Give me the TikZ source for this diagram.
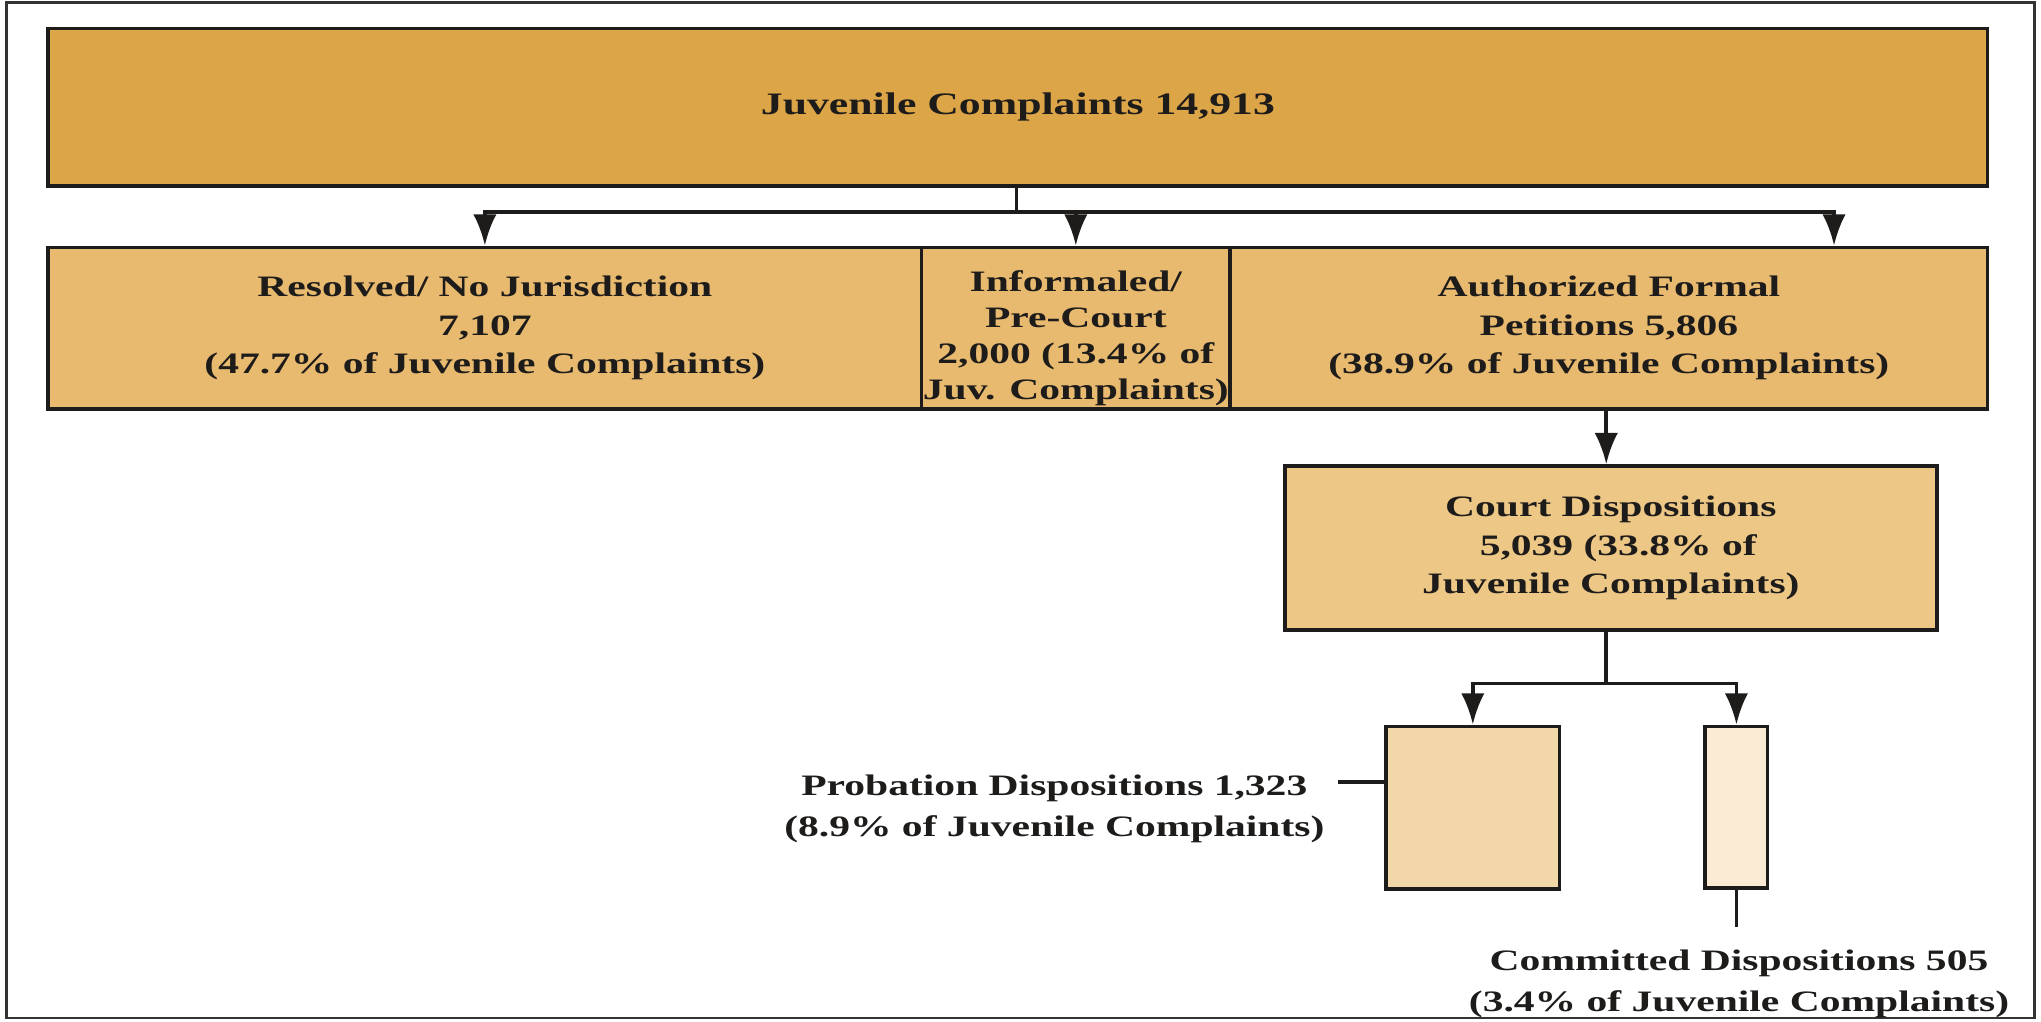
\documentclass[tikz,border=0pt]{standalone}
\usepackage{fontspec}
\setmainfont{Liberation Serif}[FakeStretch=1.4]
\usetikzlibrary{arrows.meta}
\definecolor{cTop}{RGB}{220,165,72}
\definecolor{cRow}{RGB}{232,186,112}
\definecolor{cCourt}{RGB}{236,199,134}
\definecolor{cProb}{RGB}{242,216,168}
\definecolor{cComm}{RGB}{251,234,212}
\definecolor{cLine}{RGB}{30,28,26}
\begin{document}
\begin{tikzpicture}[x=1pt,y=-1pt,
  box/.style={draw=cLine, line width=2.8pt, rectangle, inner sep=0pt, align=center,
    font=\fontsize{22.8}{29.5}\selectfont\bfseries, text=cLine},
  conn/.style={line width=2.8pt, draw=cLine},
  arr/.style={conn, -{Latex[length=24pt,width=18pt]}},
  lbl/.style={align=center, inner sep=0pt, font=\fontsize{22.8}{31.5}\selectfont\bfseries, text=cLine}]
\useasboundingbox (0,0) rectangle (1568,785);
\draw[line width=2pt, draw=black!80] (5,2) rectangle (1563,782);

\node[box, fill=cTop, minimum width=1490pt, minimum height=121pt,
  font=\fontsize{24}{29}\selectfont\bfseries] (top) at (782,82.5) {Juvenile Complaints 14,913};

\node[box, fill=cRow, minimum width=671pt, minimum height=124pt] (res) at (372.5,252)
  {Resolved/ No Jurisdiction\\7,107\\(47.7\% of Juvenile Complaints)};
\node[box, fill=cRow, minimum width=237pt, minimum height=124pt] (inf) at (826.5,252)
  {\raisebox{-8pt}[\height][\depth]{\parbox{237pt}{\centering\fontsize{22.8}{27.7}\selectfont\bfseries Informaled/\\Pre-Court\\2,000 (13.4\% of\\Juv. Complaints)}}};
\node[box, fill=cRow, minimum width=582pt, minimum height=124pt] (auth) at (1236,252)
  {Authorized Formal\\Petitions 5,806\\(38.9\% of Juvenile Complaints)};

\node[box, fill=cCourt, minimum width=501pt, minimum height=126pt] (court) at (1237.5,421)
  {Court Dispositions\\\hspace{0.5em}5,039 (33.8\% of\\Juvenile Complaints)};

\node[box, fill=cProb, minimum width=133pt, minimum height=125pt] (prob) at (1131.5,620.5) {};
\node[box, fill=cComm, minimum width=48pt, minimum height=124pt] (comm) at (1334,620) {};

\node[lbl] (plab) at (810,621.5) {Probation Dispositions 1,323\\(8.9\% of Juvenile Complaints)};
\node[lbl] (clab) at (1336,756) {Committed Dispositions 505\\(3.4\% of Juvenile Complaints)};

% connectors
\coordinate (j1) at (781,163);
\draw[conn] (top.south -| j1) -- (j1);
\draw[arr] (j1) -| (res.north);
\draw[arr] (j1) -| (inf.north);
\draw[arr] (j1) -| ([xshift=173pt]auth.north);

\coordinate (j0) at (1234,314);
\draw[arr] (j0) -- (j0 |- court.north);

\coordinate (j2) at (1234,525);
\draw[conn] (j2 |- court.south) -- (j2);
\draw[arr] (j2) -| (prob.north);
\draw[arr] (j2) -| (comm.north);

\coordinate (pl) at (1028,601);
\draw[conn] (pl) -- (pl -| prob.west);

\coordinate (cl) at (1334,712);
\draw[conn] (comm.south) -- (cl);
\end{tikzpicture}
\end{document}
